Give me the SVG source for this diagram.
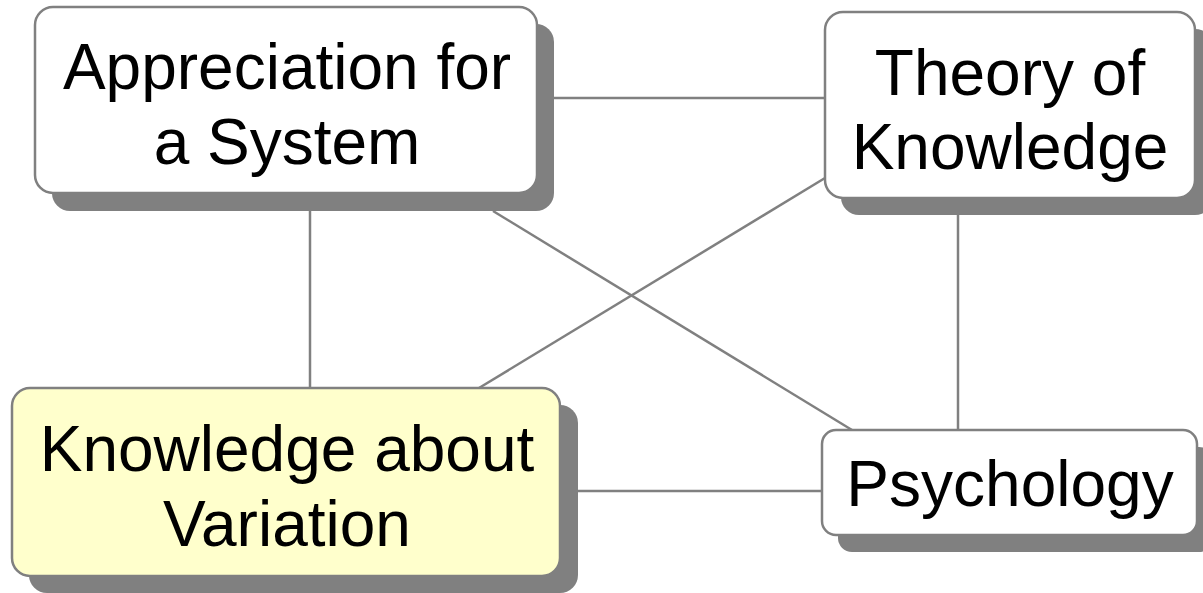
<svg xmlns="http://www.w3.org/2000/svg" width="1203" height="593" viewBox="0 0 1203 593">
<style>
.shadow{fill:#808080;}
.box{fill:#ffffff;stroke:#808080;stroke-width:2.5;}
.yellow{fill:#ffffcc;}
.lbl{font-family:"Liberation Sans",Arial,sans-serif;font-size:64px;fill:#000;text-anchor:middle;}
.conn line{stroke:#808080;stroke-width:2.5;}
</style>
<rect width="1203" height="593" fill="#ffffff"/>
<g class="conn" id="connectors">
<line x1="537" y1="98" x2="825" y2="98"/>
<line x1="310" y1="200" x2="310" y2="388"/>
<line x1="493" y1="211" x2="852" y2="430"/>
<line x1="825" y1="178" x2="479" y2="388"/>
<line x1="958" y1="200" x2="958" y2="430"/>
<line x1="560" y1="491" x2="822" y2="491"/>
</g>
<g id="appreciation">
<rect class="shadow" x="52" y="24" width="502" height="187" rx="18"/>
<rect class="box" x="35" y="7" width="502" height="186" rx="18"/>
<text class="lbl" x="287" y="89">Appreciation for</text>
<text class="lbl" x="287" y="164">a System</text>
</g>
<g id="theory">
<rect class="shadow" x="841" y="29" width="372" height="186" rx="18"/>
<rect class="box" x="825" y="12" width="370" height="186" rx="18"/>
<text class="lbl" x="1010" y="95">Theory of</text>
<text class="lbl" x="1010" y="169">Knowledge</text>
</g>
<g id="variation">
<rect class="shadow" x="29" y="405" width="549" height="188" rx="18"/>
<rect class="box yellow" x="12" y="388" width="548" height="188" rx="18"/>
<text class="lbl" x="287" y="471">Knowledge about</text>
<text class="lbl" x="287" y="546">Variation</text>
</g>
<g id="psychology">
<rect class="shadow" x="838" y="447" width="375" height="105" rx="14"/>
<rect class="box" x="822" y="430" width="375" height="105" rx="14"/>
<text class="lbl" x="1010" y="506">Psychology</text>
</g>
</svg>
